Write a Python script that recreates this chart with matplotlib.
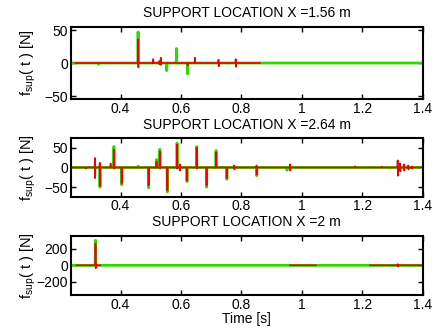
import numpy as np
import matplotlib
matplotlib.use("Agg")
import matplotlib.pyplot as plt

plt.rcParams['font.family'] = ['Liberation Sans', 'DejaVu Sans']
plt.rcParams['mathtext.fontset'] = 'custom'
plt.rcParams['mathtext.rm'] = 'Liberation Sans'
plt.rcParams['mathtext.it'] = 'Liberation Sans'

# ---------------- data ----------------
titles = ["SUPPORT LOCATION X =1.56 m", "SUPPORT LOCATION X =2.64 m", "SUPPORT LOCATION X =2 m"]
xticks = [0.4, 0.6, 0.8, 1.0, 1.2, 1.4]
xtick_labels = ["0.4", "0.6", "0.8", "1", "1.2", "1.4"]
ylims = [(-55, 55), (-74, 74), (-360, 360)]
yticks = [[-50, 0, 50], [-50, 0, 50], [-200, 0, 200]]

# panel 1
g1_t = [0.326, 0.458, 0.552, 0.585, 0.621]
g1_up = [0, 47, 0, 22, 0]
g1_dn = [-2, 0, -11.5, 0, -16.5]
g1_seg = [(0.235, 1.4)]
r1_t = [0.458, 0.508, 0.528, 0.533, 0.621, 0.646, 0.724, 0.781]
r1_up = [36, 6, 3, 8, 0, 8, 5, 6]
r1_dn = [-6.6, 0, -2, -3, -4, 0, -5, -6]
r1_seg = [(0.25, 0.861)]

# panel 2
g2_t = [0.331, 0.378, 0.403, 0.458, 0.492, 0.519, 0.530, 0.554, 0.587, 0.619,
        0.652, 0.684, 0.716, 0.751, 0.850, 0.950]
g2_up = [0, 53, 0, 3, 0, 20, 46, 0, 62, 0, 53, 0, 43, 0, 0, 0]
g2_dn = [-50, 0, -44, 0, -52, 0, 0, -62, 0, -36, 0, -50, 0, -30, -21, -7]
g2_seg = [(0.235, 1.4)]
r2_t = [0.285, 0.315, 0.331, 0.367, 0.378, 0.403, 0.492, 0.519, 0.530, 0.554,
        0.587, 0.596, 0.619, 0.652, 0.684, 0.716, 0.751, 0.776, 0.850, 0.961,
        1.176, 1.264, 1.317, 1.325, 1.338, 1.352, 1.364]
r2_up = [0, 24, 12, 10, 45, 0, 0, 15, 40, 0, 58, 8, 0, 50, 0, 38, 0, 5, 5, 8,
         3, 2, 18, 10, 8, 5, 3]
r2_dn = [-3, -27, -47, 0, -3, -40, -45, 0, -3, -58, -3, -8, -33, -3, -45, 0,
         -27, -5, -18, -8, 0, 0, -21, -10, -8, -5, -3]
r2_seg = [(0.235, 1.4)]

# panel 3
g3_t = [0.317]
g3_up = [303]
g3_dn = [0]
g3_seg = [(0.235, 1.4)]
r3_t = [0.317, 1.317]
r3_up = [263, 15]
r3_dn = [-36, -15]
r3_seg = [(0.254, 0.332), (0.961, 1.046), (1.226, 1.4)]

panels = [
    (g1_t, g1_up, g1_dn, g1_seg, r1_t, r1_up, r1_dn, r1_seg),
    (g2_t, g2_up, g2_dn, g2_seg, r2_t, r2_up, r2_dn, r2_seg),
    (g3_t, g3_up, g3_dn, g3_seg, r3_t, r3_up, r3_dn, r3_seg),
]


def build(ts, ups, dns, segs, eps=0.0008):
    xs, ys = [], []
    for (a, b) in segs:
        xs.append(a); ys.append(0.0)
        for t, u, d in sorted(zip(ts, ups, dns)):
            if a <= t <= b:
                xs += [t - eps, t, t + eps, t + 2 * eps]
                ys += [0.0, u, d, 0.0]
        xs.append(b); ys.append(0.0)
        xs.append(np.nan); ys.append(np.nan)
    return np.array(xs), np.array(ys)


fig = plt.figure(figsize=(4.32, 3.30), dpi=100)
positions = [
    [0.1637, 0.699, 0.8148, 0.220],
    [0.1637, 0.404, 0.8148, 0.177],
    [0.1637, 0.106, 0.8148, 0.180],
]

for i, (pos, p) in enumerate(zip(positions, panels)):
    ax = fig.add_axes(pos)
    gt, gu, gd, gs, rt, ru, rd, rs = p
    gx, gy = build(gt, gu, gd, gs)
    rx, ry = build(rt, ru, rd, rs)
    ax.plot(gx, gy, color='#30d800', lw=2.0)
    ax.plot(rx, ry, color='#f00000', lw=1.2)
    ax.set_xlim(0.235, 1.4)
    ax.set_ylim(*ylims[i])
    ax.set_xticks(xticks)
    ax.set_xticklabels(xtick_labels)
    ax.set_yticks(yticks[i])
    ax.set_yticklabels([str(v).replace('-', '\u2212') for v in yticks[i]])
    ax.tick_params(direction='in', top=True, right=True, length=3.5, width=1.0,
                   labelsize=10, pad=2)
    for s in ax.spines.values():
        s.set_linewidth(1.5)
    ax.set_title(titles[i], fontsize=10, pad=7)
    ax.set_ylabel(r'$\mathregular{f_{sup}(\ t\ )\ [N]}$', fontsize=10.5)
    ax.yaxis.set_label_coords(-0.092, 0.5)
    if i == 2:
        ax.set_xlabel('Time [s]', fontsize=10, labelpad=0)

fig.savefig('out.png', dpi=100)
